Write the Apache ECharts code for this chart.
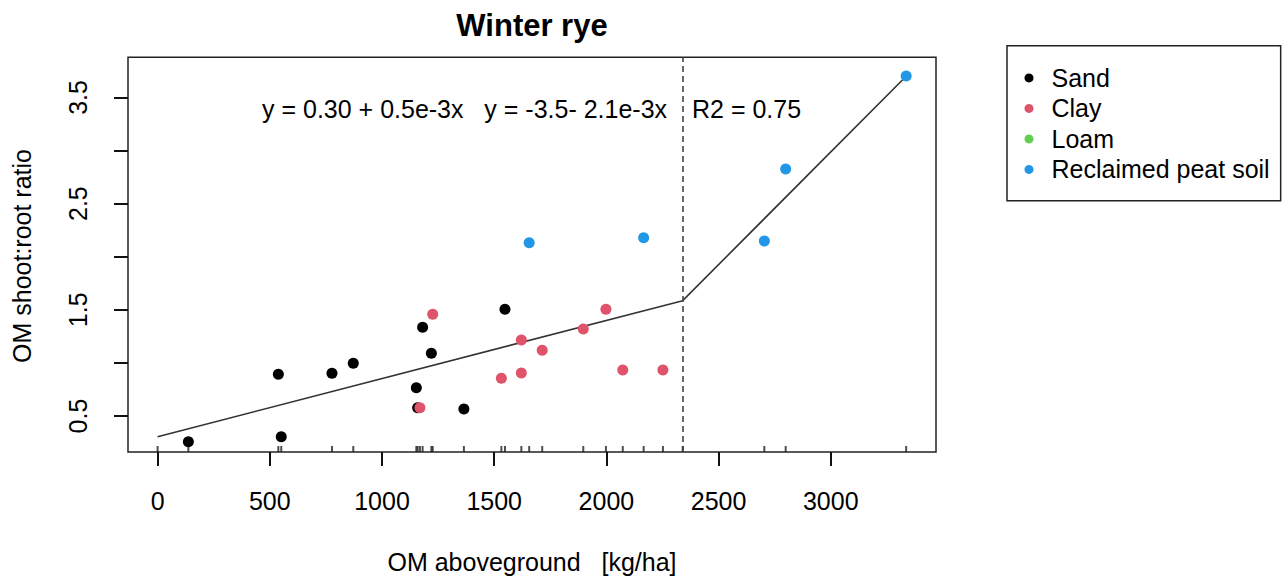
<!DOCTYPE html>
<html>
<head>
<meta charset="utf-8">
<script src="https://cdn.jsdelivr.net/npm/echarts@6/dist/echarts.min.js"></script>
<style>
html,body{margin:0;padding:0;background:#fff;}
#chart{width:1285px;height:576px;}
</style>
</head>
<body>
<div id="chart"></div>
<script>
// ---- data ----
const sand = [[137,0.258],[538,0.893],[551,0.305],[777,0.902],[872,0.996],[1153,0.767],[1159,0.578],[1181,1.335],[1220,1.090],[1365,0.566],[1548,1.505]];
const clay = [[1169,0.578],[1226,1.458],[1532,0.855],[1621,1.216],[1621,0.905],[1714,1.119],[1897,1.319],[1998,1.505],[2073,0.933],[2252,0.933]];
const loam = [];
const peat = [[1656,2.132],[2166,2.179],[2704,2.148],[2799,2.826],[3336,3.702]];
const fitLine = [[0,0.305],[2340,1.586],[3336,3.700]];
const breakpointX = 2340;
const rugX = [0,137,538,551,777,872,1153,1159,1169,1181,1220,1226,1365,1532,1548,1621,1656,1714,1897,1998,2073,2166,2252,2340,2704,2799,3336];
const xTickMin = 0, xTickMax = 3000, xTickStep = 500;
const yTickMin = 0.5, yTickMax = 3.5, yTickStep = 0.5;
const yLabelValues = [0.5, 1.5, 2.5, 3.5];
const seriesNames = ['Sand','Clay','Loam','Reclaimed peat soil'];
const seriesColors = ['#000000','#DF536B','#61D04F','#2297E6'];
const titleText = 'Winter rye';
const xTitle = 'OM aboveground   [kg/ha]';
const yTitle = 'OM shoot:root ratio';
const eq1 = 'y = 0.30 + 0.5e-3x   y = -3.5- 2.1e-3x';
const eq2 = 'R2 = 0.75';

// ---- plot region (R usr extents) ----
const xMin = -132, xMax = 3469, yMin = 0.161, yMax = 3.878;
const box = {left:128, top:57.3, width:808, height:394.7};
const tickLeft = box.left + (xTickMin - xMin)/(xMax - xMin)*box.width;
const tickWidth = (xTickMax - xTickMin)/(xMax - xMin)*box.width;
const tickTop = box.top + (yMax - yTickMax)/(yMax - yMin)*box.height;
const tickHeight = (yTickMax - yTickMin)/(yMax - yMin)*box.height;

const FONT = "'Liberation Sans', Arial, Helvetica, sans-serif";
const chart = echarts.init(document.getElementById('chart'), null, {renderer:'svg'});

const pointSeries = [sand, clay, loam, peat].map((d, i) => ({
  name: seriesNames[i], type:'scatter', xAxisIndex:0, yAxisIndex:0,
  data: d, symbol:'circle', symbolSize:11, clip:false,
  itemStyle:{color: seriesColors[i], opacity:1}, z:5
}));

const mkTick = () => ({show:true, inside:false, length:14, lineStyle:{color:'#111', width:2}});
const mkLine = () => ({show:true, onZero:false, lineStyle:{color:'#222', width:1.5, opacity:0}});

chart.setOption({
  animation:false,
  backgroundColor:'#fff',
  textStyle:{fontFamily:FONT},
  grid:[
    {left:box.left, top:box.top, width:box.width, height:box.height, show:true, borderColor:'#222', borderWidth:1.5, backgroundColor:'transparent', containLabel:false},
    {left:tickLeft, top:box.top, width:tickWidth, height:box.height, show:false, containLabel:false},
    {left:box.left, top:tickTop, width:box.width, height:tickHeight, show:false, containLabel:false}
  ],
  xAxis:[
    {type:'value', gridIndex:0, min:xMin, max:xMax, show:false},
    {type:'value', gridIndex:1, min:xTickMin, max:xTickMax, interval:xTickStep, position:'bottom',
     axisLine:mkLine(), splitLine:{show:false}, axisTick:mkTick(),
     axisLabel:{show:true, fontSize:25, color:'#000', margin:36, fontFamily:FONT, formatter:(v)=>String(v)}},
    {type:'value', gridIndex:2, min:xMin, max:xMax, show:false}
  ],
  yAxis:[
    {type:'value', gridIndex:0, min:yMin, max:yMax, show:false},
    {type:'value', gridIndex:1, min:yMin, max:yMax, show:false},
    {type:'value', gridIndex:2, min:yTickMin, max:yTickMax, interval:yTickStep, position:'left',
     axisLine:mkLine(), splitLine:{show:false}, axisTick:mkTick(),
     axisLabel:{show:true, fontSize:25, color:'#000', margin:38, rotate:90, fontFamily:FONT,
       formatter:(v)=> yLabelValues.some(t=>Math.abs(t-v)<1e-9) ? v.toFixed(1) : ''}}
  ],
  legend:{
    data: seriesNames, orient:'vertical', left:1007, top:45.7,
    padding:[17,11,16,17.5], itemGap:0, itemWidth:9, itemHeight:9, icon:'circle',
    borderColor:'#222', borderWidth:1.5, backgroundColor:'#fff',
    textStyle:{fontSize:25, color:'#000', fontFamily:FONT, lineHeight:30.5, padding:[0,0,0,13]},
    selectedMode:false
  },
  series:[
    {name:'rug', type:'scatter', xAxisIndex:0, yAxisIndex:0, data: rugX.map(x=>[x, yMin]),
     symbol:'rect', symbolSize:[2,6], symbolOffset:[0,-3], clip:false, itemStyle:{color:'#222'}, z:3, silent:true},
    {name:'fit', type:'line', xAxisIndex:0, yAxisIndex:0, data: fitLine, showSymbol:false, symbol:'none', clip:false,
     lineStyle:{color:'#333', width:1.6}, z:4, silent:true,
     markLine:{symbol:'none', silent:true, label:{show:false},
       lineStyle:{color:'#444', width:1.6, type:[6,4]}, data:[{xAxis:breakpointX}]}},
    ...pointSeries
  ],
  graphic:[
    {type:'text', x:532, y:25, style:{text:titleText, font:"bold 31px "+FONT, fill:'#000', textAlign:'center', textVerticalAlign:'middle'}},
    {type:'text', x:262, y:109, style:{text:eq1, font:"25px "+FONT, fill:'#000', textAlign:'left', textVerticalAlign:'middle'}},
    {type:'text', x:692, y:109, style:{text:eq2, font:"25px "+FONT, fill:'#000', textAlign:'left', textVerticalAlign:'middle'}},
    {type:'text', x:532, y:562, style:{text:xTitle, font:"25px "+FONT, fill:'#000', textAlign:'center', textVerticalAlign:'middle'}},
    {type:'text', x:22, y:256, rotation:Math.PI/2, style:{text:yTitle, font:"25px "+FONT, fill:'#000', textAlign:'center', textVerticalAlign:'middle'}}
  ]
});
</script>
</body>
</html>
